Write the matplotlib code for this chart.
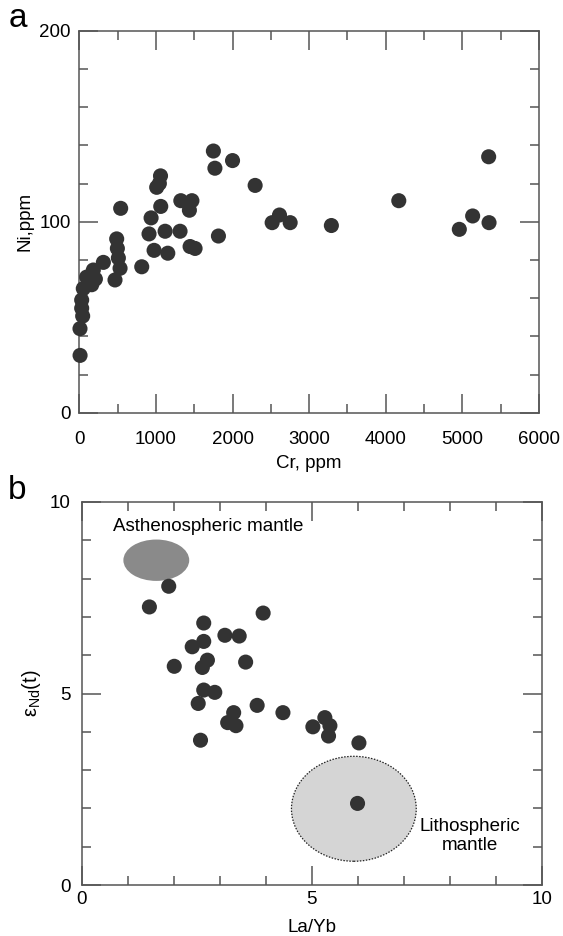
import numpy as np
import matplotlib
matplotlib.use("Agg")
import matplotlib.pyplot as plt
from matplotlib.patches import Ellipse
from matplotlib.ticker import MultipleLocator

plt.rcParams['font.family'] = ['Liberation Sans', 'DejaVu Sans']
plt.rcParams['mathtext.fontset'] = 'custom'
plt.rcParams['mathtext.rm'] = 'Liberation Sans'
plt.rcParams['mathtext.it'] = 'Liberation Sans:italic'

# panel a: Cr vs Ni (ppm)
cr = [1750, 2000, 1770, 1060, 1045, 1010, 2295, 1325, 1470, 1437,
      1063, 540, 937, 2517, 2613, 2752, 910, 1120, 1315, 1816,
      976, 1155, 1446, 1511, 488, 497, 510, 532, 466, 815,
      314, 183, 96, 162, 52, 31, 31, 44, 9, 10,
      120, 210, 3290, 4170, 4960, 5134, 5348, 5343]
ni = [137, 132, 128, 124, 120, 118, 119, 111, 111, 106,
      108, 107, 102, 99.5, 103.5, 99.5, 93.6, 95, 95, 92.5,
      85, 83.5, 87, 86, 91, 86, 81, 75.6, 69.5, 76.4,
      78.7, 74.7, 71, 67, 65, 59, 54.7, 50.6, 44, 30,
      69, 70, 98, 111, 96, 103, 99.5, 134]

# panel b: La/Yb vs eNd(t)
la_yb = [1.89, 1.47, 3.94, 2.65, 3.11, 3.42, 2.65, 2.40, 2.01, 2.73,
         2.62, 3.56, 2.65, 2.89, 2.53, 3.30, 3.81, 4.37, 3.17, 3.35,
         2.58, 5.02, 5.28, 5.39, 5.36, 6.02, 5.99]
end_t = [7.80, 7.26, 7.10, 6.84, 6.52, 6.50, 6.36, 6.22, 5.71, 5.87,
         5.68, 5.82, 5.09, 5.03, 4.74, 4.50, 4.69, 4.50, 4.24, 4.16,
         3.78, 4.13, 4.37, 4.16, 3.89, 3.71, 2.13]

# source fields (centre x, centre y, width, height)
asthen = (1.62, 8.48, 1.43, 1.08)
litho = (5.91, 1.99, 2.71, 2.74)

W, H = 563, 936
fig = plt.figure(figsize=(W / 100, H / 100), dpi=100)

ax1 = fig.add_axes([79.3 / W, 1 - 412.7 / H, (539 - 79.3) / W, (412.7 - 30.7) / H])
ax2 = fig.add_axes([81.7 / W, 1 - 885 / H, (542.2 - 81.7) / W, (885 - 502) / H])

dot = '#333333'
edge = '#555555'
fs = 13.5

for ax in (ax1, ax2):
    for s in ax.spines.values():
        s.set_color(edge)
        s.set_linewidth(1.1)
    ax.tick_params(which='both', direction='in', top=True, right=True,
                   color=edge, width=1.1, labelsize=fs)
    ax.tick_params(which='major', length=13.5)
    ax.tick_params(which='minor', length=6.8)

# --- panel a
ax1.scatter(cr, ni, s=118, color=dot, edgecolors='none', zorder=3, clip_on=False)
ax1.set_xlim(0, 6000)
ax1.set_ylim(0, 200)
ax1.xaxis.set_major_locator(MultipleLocator(1000))
ax1.xaxis.set_minor_locator(MultipleLocator(500))
ax1.yaxis.set_major_locator(MultipleLocator(100))
ax1.yaxis.set_minor_locator(MultipleLocator(20))
ax1.tick_params(axis='x', which='major', pad=13)
ax1.tick_params(axis='y', which='major', pad=6)
ax1.set_xlabel('Cr, ppm', fontsize=fs, labelpad=5)
ax1.set_ylabel('Ni,ppm', fontsize=fs, labelpad=4.5)

# --- panel b
ax2.add_patch(Ellipse(asthen[:2], asthen[2], asthen[3], facecolor='#8a8a8a',
                      edgecolor='none', zorder=1))
ax2.add_patch(Ellipse(litho[:2], litho[2], litho[3], facecolor='#d5d5d5',
                      edgecolor='#222222', linestyle=(0, (1.2, 1.2)),
                      linewidth=0.9, zorder=1))
ax2.scatter(la_yb, end_t, s=118, color=dot, edgecolors='none', zorder=3)
ax2.set_xlim(0, 10)
ax2.set_ylim(0, 10)
ax2.xaxis.set_major_locator(MultipleLocator(5))
ax2.xaxis.set_minor_locator(MultipleLocator(1))
ax2.yaxis.set_major_locator(MultipleLocator(5))
ax2.yaxis.set_minor_locator(MultipleLocator(1))
ax2.tick_params(axis='x', which='major', pad=4)
ax2.tick_params(axis='y', which='major', pad=8)
ax2.set_xlabel('La/Yb', fontsize=fs, labelpad=8)
ax2.set_ylabel('ε$_{\\mathrm{Nd}}$(t)', fontsize=fs + 1, labelpad=5)

ax2.text(0.67, 9.35, 'Asthenospheric mantle', fontsize=fs, ha='left', va='center')
ax2.text(8.42, 1.28, 'Lithospheric\nmantle', fontsize=fs, ha='center', va='center',
         multialignment='center', linespacing=1.1)

fig.text(9 / W, 1 - 27 / H, 'a', fontsize=24, ha='left', va='baseline')
fig.text(8 / W, 1 - 499 / H, 'b', fontsize=24, ha='left', va='baseline')

fig.savefig('out.png', dpi=100)
